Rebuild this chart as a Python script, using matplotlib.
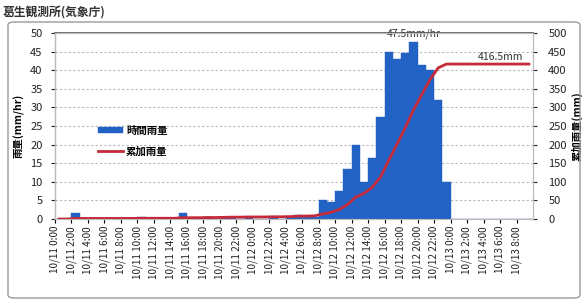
import numpy as np
import matplotlib
matplotlib.use("Agg")
import matplotlib.pyplot as plt
from matplotlib.patches import FancyBboxPatch

plt.rcParams['font.family'] = ['Noto Sans CJK JP', 'DejaVu Sans']

# hourly rainfall (mm/hr), hours from 10/11 0:00 to 10/13 9:00
hours = list(range(58))
rain = [0, 0, 1.5, 0, 0, 0, 0, 0, 0, 0,
        0.5, 0, 0, 0, 0, 1.5, 0, 0, 0.5, 0,
        0.5, 0.5, 0, 0.5, 0, 0, 0.5, 0, 0.5, 1.0,
        0.5, 0.5, 5, 4.5, 7.5, 13.5, 20, 10, 16.5, 27.5,
        45, 43, 44.5, 47.5, 41.5, 40, 32, 10, 0, 0,
        0, 0, 0, 0, 0, 0, 0, 0]
cumulative = np.cumsum(rain)

tick_hours = list(range(0, 57, 2))
tick_labels = ([f"10/11 {h}:00" for h in range(0, 24, 2)] +
               [f"10/12 {h}:00" for h in range(0, 24, 2)] +
               [f"10/13 {h}:00" for h in range(0, 9, 2)])

title = "葛生観測所(気象庁)"
peak_label = "47.5mm/hr"
total_label = "416.5mm"

W, H = 585, 302
fig = plt.figure(figsize=(W / 100, H / 100), dpi=100)
fig.patch.set_facecolor('white')

# outer frame of the chart
frame = FancyBboxPatch((8 / W, 4 / H), 572 / W, 276 / H,
                       boxstyle="round,pad=0,rounding_size=0.01",
                       transform=fig.transFigure, fill=False,
                       edgecolor='#9a9a9a', linewidth=1.0)
fig.patches.append(frame)

fig.text(3 / W, 1 - 12 / H, title, fontsize=8.5, fontweight='bold',
         color='#333333', va='center', ha='left')

ax = fig.add_axes([55 / W, 1 - 219 / H, 478 / W, 186 / H])
ax2 = ax.twinx()

x = np.array(hours) + 0.5
ax.bar(x, rain, width=1.0, color='#2262c4', edgecolor='#2262c4',
       linewidth=0.3, label='時間雨量', zorder=2)
ax2.plot(x, cumulative, color='#c42a3a', linewidth=2.0, label='累加雨量',
         zorder=3)

ax.set_xlim(0, 58)
ax.set_ylim(0, 50)
ax2.set_ylim(0, 500)
ax.set_yticks(np.arange(0, 51, 5))
ax2.set_yticks(np.arange(0, 501, 50))
ax.set_xticks(tick_hours)
ax.set_xticklabels(tick_labels, rotation=90, fontsize=7.2, color='#222222')
ax.tick_params(axis='x', length=3, pad=2)
ax.tick_params(axis='y', labelsize=8, length=3, pad=6, colors='#222222')
ax2.tick_params(axis='y', labelsize=8, length=3, pad=8, colors='#222222')

ax.yaxis.grid(True, linestyle=(0, (2, 2)), color='#b8b8b8', linewidth=0.8)
ax.set_axisbelow(True)
ax.set_zorder(ax2.get_zorder() - 1)
ax.patch.set_visible(False)
ax2.patch.set_visible(False)

for a in (ax, ax2):
    for s in a.spines.values():
        s.set_color('#bbbbbb')
        s.set_linewidth(0.8)
ax.spines['left'].set_color('#333333')
ax.spines['top'].set_color('#555555')
ax.spines['top'].set_linewidth(1.2)

ax.set_ylabel('雨量(mm/hr)', fontsize=7.5, fontweight='bold', labelpad=4)
ax2.set_ylabel('累加雨量(mm)', fontsize=7.5, fontweight='bold', labelpad=3)

ax.text(43.5, 48.5, peak_label, fontsize=7.5, ha='center', va='bottom',
        color='#333333')
ax2.text(54.0, 421, total_label, fontsize=7.5, ha='center', va='bottom',
         color='#333333')

h1, l1 = ax.get_legend_handles_labels()
h2, l2 = ax2.get_legend_handles_labels()
leg = ax.legend(h1 + h2, l1 + l2, loc='upper left',
                bbox_to_anchor=(0.07, 0.55), frameon=False, fontsize=7.5,
                handlelength=2.4, handleheight=0.5, labelspacing=1.0,
                handletextpad=0.3)
for t in leg.get_texts():
    t.set_fontweight('bold')

fig.savefig('out.png', dpi=100, facecolor='white')
